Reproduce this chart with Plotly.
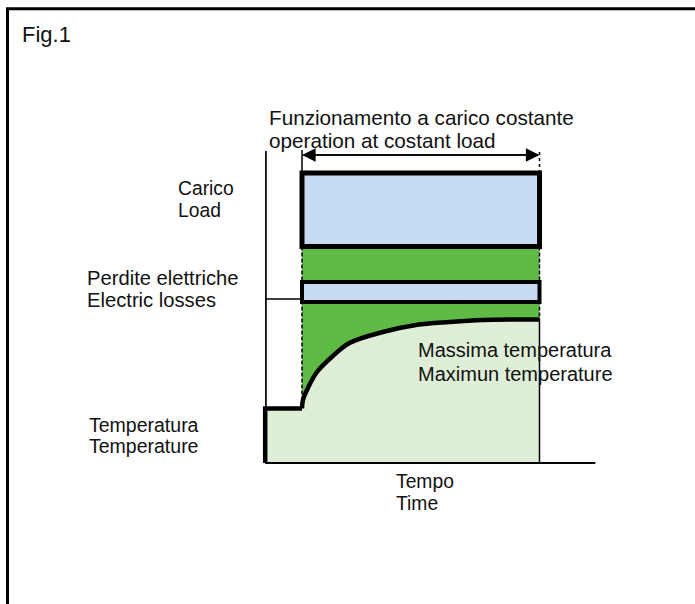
import plotly.graph_objects as go

# ---------------- data (diagram units: time t, value T) ----------------
t_on, t_off = 0.0, 10.0            # constant-load interval
t_start = -1.55                    # start of temperature record
t_axis = -1.52                     # vertical axis position
t_axis_end = 12.35                 # end of time axis
T_initial = 5.45                   # initial temperature
T_axis_top = 31.2
load_box = [21.65, 29.0]           # Carico / Load band
loss_box = [16.1, 18.1]            # Perdite elettriche / Electric losses band
T_loss_marker = 16.4
T_arrow = 30.8
T_tick_top = 31.3

curve_t = [0.0, 0.04, 0.25, 0.63, 1.3, 2.0, 3.4, 4.8, 6.2, 7.6, 10.0]
curve_T = [5.45, 6.3, 7.5, 9.1, 10.7, 12.0, 13.1, 13.8, 14.1, 14.3, 14.35]

labels = [
    ("Fig.1", -11.83, 42.9, 22),
    ("Funzionamento a carico costante", -1.45, 34.55, 20.7),
    ("operation at costant load", -1.43, 32.3, 20.7),
    ("Carico", -5.26, 27.45, 19.3),
    ("Load", -5.26, 25.3, 19.3),
    ("Perdite elettriche", -9.09, 18.5, 20.2),
    ("Electric losses", -9.09, 16.3, 20.2),
    ("Massima temperatura", 4.84, 11.3, 20),
    ("Maximun temperature", 4.84, 8.95, 20),
    ("Temperatura", -9.01, 3.85, 19.5),
    ("Temperature", -9.01, 1.75, 19.5),
    ("Tempo", 3.92, -1.85, 19.3),
    ("Time", 3.92, -4.0, 19.3),
]

LIGHT_BLUE = "#c6dcf2"
GREEN = "#60ba46"
LIGHT_GREEN = "#dfeed6"
BLACK = "#000000"

fig = go.Figure()

# green heating band (between initial temperature and load box)
fig.add_trace(go.Scatter(
    x=[t_on, t_off, t_off, t_on, t_on],
    y=[T_initial, T_initial, load_box[0], load_box[0], T_initial],
    fill="toself", fillcolor=GREEN, mode="none", hoverinfo="skip"))

# light green temperature area
fig.add_trace(go.Scatter(
    x=[t_start, t_on], y=[T_initial, T_initial],
    fill="tozeroy", fillcolor=LIGHT_GREEN, mode="none", hoverinfo="skip"))
fig.add_trace(go.Scatter(
    x=curve_t, y=curve_T, line_shape="spline",
    fill="tozeroy", fillcolor=LIGHT_GREEN, mode="none", hoverinfo="skip"))

# dashed edges of the green band
fig.add_trace(go.Scatter(x=[t_on, t_on], y=[load_box[0], T_initial], mode="lines",
                         line=dict(color=BLACK, width=1.5, dash="4px,2px"), hoverinfo="skip"))
fig.add_trace(go.Scatter(x=[t_off, t_off], y=[load_box[0], curve_T[-1]], mode="lines",
                         line=dict(color=BLACK, width=1.5, dash="4px,2px"), hoverinfo="skip"))

# axes lines
fig.add_trace(go.Scatter(x=[t_start, t_axis_end], y=[0, 0], mode="lines",
                         line=dict(color=BLACK, width=2), hoverinfo="skip"))
fig.add_trace(go.Scatter(x=[t_axis, t_axis], y=[T_initial, T_axis_top], mode="lines",
                         line=dict(color=BLACK, width=1.7), hoverinfo="skip"))
fig.add_trace(go.Scatter(x=[t_axis, t_on], y=[T_loss_marker, T_loss_marker], mode="lines",
                         line=dict(color=BLACK, width=1.5), hoverinfo="skip"))

# right edge of temperature area
fig.add_trace(go.Scatter(x=[t_off, t_off], y=[0, curve_T[-1]], mode="lines",
                         line=dict(color=BLACK, width=1.5), hoverinfo="skip"))

# temperature outline: step then heating curve
fig.add_trace(go.Scatter(x=[t_start, t_start, t_on], y=[0, T_initial, T_initial], mode="lines",
                         line=dict(color=BLACK, width=4.5), hoverinfo="skip"))
fig.add_trace(go.Scatter(x=curve_t, y=curve_T, mode="lines", line_shape="spline",
                         line=dict(color=BLACK, width=4.5), hoverinfo="skip"))

# ticks bounding the interval arrow
fig.add_trace(go.Scatter(x=[t_on, t_on], y=[load_box[1], T_tick_top], mode="lines",
                         line=dict(color=BLACK, width=1.5), hoverinfo="skip"))
fig.add_trace(go.Scatter(x=[t_off, t_off], y=[load_box[1], T_tick_top], mode="lines",
                         line=dict(color=BLACK, width=1.5, dash="dot"), hoverinfo="skip"))

# boxes
fig.add_shape(type="rect", x0=t_on, x1=t_off, y0=load_box[0], y1=load_box[1],
              xref="x", yref="y", fillcolor=LIGHT_BLUE, line=dict(color=BLACK, width=5))
fig.add_shape(type="rect", x0=t_on, x1=t_off, y0=loss_box[0], y1=loss_box[1],
              xref="x", yref="y", fillcolor=LIGHT_BLUE, line=dict(color=BLACK, width=4))

# outer frame
fig.add_shape(type="rect", xref="paper", yref="paper",
              x0=7.5 / 695, x1=1.05, y0=-0.05, y1=1 - 8.8 / 604,
              line=dict(color=BLACK, width=3), fillcolor="rgba(0,0,0,0)")

# double arrow (two overlapping full-length arrows, heads at each end)
for tip, tail in ((t_on, t_off), (t_off, t_on)):
    fig.add_annotation(x=tip, y=T_arrow, ax=tail, ay=T_arrow, xref="x", yref="y",
                       axref="x", ayref="y", text="", showarrow=True,
                       arrowhead=2, arrowsize=1.7, arrowwidth=1.6, arrowcolor=BLACK,
                       standoff=0, startstandoff=0)

for txt, x, y, size in labels:
    fig.add_annotation(x=x, y=y, xref="x", yref="y", text=txt, showarrow=False,
                       xanchor="left", yanchor="middle", borderpad=0,
                       font=dict(family="Liberation Sans, Arial, sans-serif", size=size, color="#111111"))

fig.update_layout(
    width=695, height=604,
    margin=dict(l=0, r=0, t=0, b=0),
    paper_bgcolor="white", plot_bgcolor="white",
    showlegend=False,
    xaxis=dict(range=[-302 / 23.75, (695 - 302) / 23.75], visible=False, fixedrange=True),
    yaxis=dict(range=[(463 - 604) / 10, 463 / 10], visible=False, fixedrange=True),
)

fig.write_html("out.html", config={"displayModeBar": False},
               post_script="document.body.style.margin='0';document.body.style.overflow='hidden';")
